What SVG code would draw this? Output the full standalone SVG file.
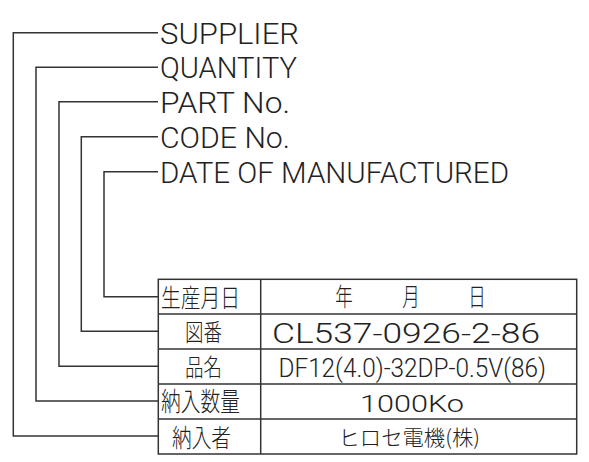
<svg xmlns="http://www.w3.org/2000/svg" width="589" height="462" viewBox="0 0 589 462">
<style>
.ln{fill:none;stroke:#333;stroke-width:1.5}
.lbl{font-family:Roboto,"Liberation Sans",sans-serif;font-weight:300;font-size:30px;fill:#222}
.val{font-family:Roboto,"Liberation Sans",sans-serif;font-weight:300;fill:#222}
.jp{font-family:"Noto Sans CJK JP","Noto Sans",sans-serif;font-weight:300;fill:#222}
</style>
<rect width="589" height="462" fill="#fff"/>
<g id="connectors">
<polyline class="ln" points="158,32.7 13.3,32.7 13.3,436 158,436"/>
<polyline class="ln" points="158,67.3 36,67.3 36,401 158,401"/>
<polyline class="ln" points="158,101.7 59,101.7 59,366.3 158,366.3"/>
<polyline class="ln" points="158,136.7 81.3,136.7 81.3,331.3 158,331.3"/>
<polyline class="ln" points="158,171.7 104,171.7 104,296.7 158,296.7"/>
</g>
<g id="label-supplier"><text class="lbl" x="160" y="43.5" textLength="139" lengthAdjust="spacingAndGlyphs">SUPPLIER</text></g>
<g id="label-quantity"><text class="lbl" x="160" y="78" textLength="137" lengthAdjust="spacingAndGlyphs">QUANTITY</text></g>
<g id="label-part"><text class="lbl" x="160" y="112.5" textLength="130" lengthAdjust="spacingAndGlyphs">PART No.</text></g>
<g id="label-code"><text class="lbl" x="160" y="147.5" textLength="130" lengthAdjust="spacingAndGlyphs">CODE No.</text></g>
<g id="label-date"><text class="lbl" x="160" y="182.5" textLength="349" lengthAdjust="spacingAndGlyphs">DATE OF MANUFACTURED</text></g>
<g id="table">
<rect class="ln" x="158.3" y="279.3" width="418.4" height="174.7"/>
<line class="ln" x1="260.7" y1="279.3" x2="260.7" y2="454"/>
<line class="ln" x1="158.3" y1="314" x2="576.7" y2="314"/>
<line class="ln" x1="158.3" y1="349" x2="576.7" y2="349"/>
<line class="ln" x1="158.3" y1="384" x2="576.7" y2="384"/>
<line class="ln" x1="158.3" y1="419" x2="576.7" y2="419"/>
</g>
<g id="row-date">
<text class="jp" x="161" y="306.5" font-size="25" textLength="79" lengthAdjust="spacingAndGlyphs">生産月日</text>
<text class="jp" font-size="25" text-anchor="middle" transform="translate(344,306) scale(0.7 1)">年</text>
<text class="jp" font-size="25" text-anchor="middle" transform="translate(411,306) scale(0.7 1)">月</text>
<text class="jp" font-size="25" text-anchor="middle" transform="translate(477,306) scale(0.7 1)">日</text>
</g>
<g id="row-code">
<text class="jp" x="185" y="340.5" font-size="24" textLength="37" lengthAdjust="spacingAndGlyphs">図番</text>
<text class="val" x="272" y="343.3" font-size="28" textLength="268" lengthAdjust="spacingAndGlyphs">CL537-0926-2-86</text>
</g>
<g id="row-part">
<text class="jp" x="185" y="375.5" font-size="24" textLength="37" lengthAdjust="spacingAndGlyphs">品名</text>
<text class="val" x="278.5" y="377.3" font-size="26" textLength="267.5" lengthAdjust="spacingAndGlyphs">DF12(4.0)-32DP-0.5V(86)</text>
</g>
<g id="row-quantity">
<text class="jp" x="161" y="410.5" font-size="26" textLength="79" lengthAdjust="spacingAndGlyphs">納入数量</text>
<text class="val" x="360" y="412.3" font-size="24" textLength="104" lengthAdjust="spacingAndGlyphs">1000Ko</text>
</g>
<g id="row-supplier">
<text class="jp" x="172" y="447" font-size="25" textLength="59" lengthAdjust="spacingAndGlyphs">納入者</text>
<text class="jp" x="338.5" y="445" font-size="21" textLength="141.5" lengthAdjust="spacingAndGlyphs">ヒロセ電機(株)</text>
</g>
</svg>
